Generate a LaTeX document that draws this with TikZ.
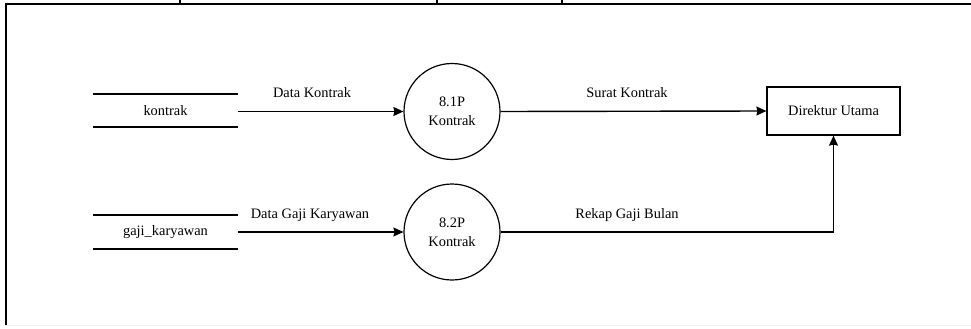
\documentclass[tikz,border=0pt]{standalone}
\usepackage{fontspec}
\setmainfont{Liberation Serif}
\newfontfamily\dfdfont{Liberation Serif}
\usetikzlibrary{arrows.meta}
\begin{document}
\begin{tikzpicture}[x=1pt,y=-1pt,
  font=\dfdfont\fontsize{14.4}{16}\selectfont,
  flow/.style={line width=1.4pt,-{Stealth[length=10pt,width=9pt,inset=1pt]}},
  proc/.style={circle,draw,line width=1.2pt,minimum size=96pt,inner sep=0pt,align=center,font=\dfdfont\fontsize{14.4}{19}\selectfont},
  entity/.style={draw,line width=1.2pt,minimum width=133pt,minimum height=48pt,inner sep=0pt},
  storeline/.style={line width=1.4pt},
  lbl/.style={inner sep=0pt,anchor=base}]
\useasboundingbox (0,0) rectangle (971,329);

% outer frame
\draw[line width=2pt] (971,4) -- (6,4) -- (6,325);
\draw[line width=0.8pt,black!6] (6,325) -- (971,325);
\foreach \tx in {180,437,562} \draw[line width=1.4pt] (\tx,0) -- (\tx,4);

% data stores
\node[inner sep=0pt,minimum width=145pt,minimum height=33pt] (s1) at (165.5,110.5) {kontrak};
\draw[storeline] (93,94) -- (238,94);
\draw[storeline] (93,127) -- (238,127);
\node[inner sep=0pt,minimum width=145pt,minimum height=34pt] (s2) at (165.5,232) {gaji\_karyawan};
\draw[storeline] (93,215) -- (238,215);
\draw[storeline] (93,249) -- (238,249);

% processes
\node[proc] (p1) at (452,111.5) {8.1P\\Kontrak};
\node[proc] (p2) at (452,232) {8.2P\\Kontrak};

% external entity
\node[entity] (e) at (833.5,111) {Direktur Utama};
\coordinate (corner) at (833.5,232);

% flows
\draw[flow] (s1.east |- p1.west) -- (p1.west);
\draw[flow] (s2.east |- p2.west) -- (p2.west);
\draw[flow] (p1.east) -- (e.west);
\draw[flow] (p2.east) -- (corner) -- (e.south);

% flow labels
\node[lbl] at (312,97) {Data Kontrak};
\node[lbl] at (310,218) {Data Gaji Karyawan};
\node[lbl] at (627,97) {Surat Kontrak};
\node[lbl] at (627,218) {Rekap Gaji Bulan};
\end{tikzpicture}
\end{document}
